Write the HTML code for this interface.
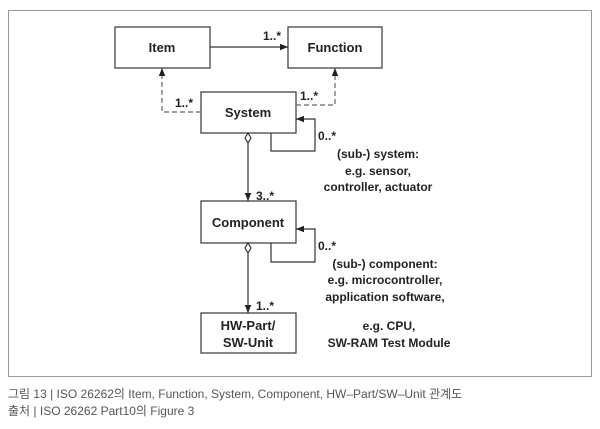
<!DOCTYPE html>
<html><head><meta charset="utf-8"><style>
body{margin:0;background:#fff;width:600px;height:424px;overflow:hidden}
</style></head><body>
<svg width="600" height="424" viewBox="0 0 600 424" xmlns="http://www.w3.org/2000/svg" font-family="Liberation Sans, Arial, sans-serif">
<defs>
<marker id="a" viewBox="0 0 10 10" refX="10" refY="5" markerWidth="8" markerHeight="8" orient="auto" markerUnits="userSpaceOnUse"><path d="M0,1 L10,5 L0,9 z" fill="#222"/></marker>
</defs>
<rect x="8.5" y="10.5" width="583" height="366" fill="#fff" stroke="#999" stroke-width="1"/>
<g fill="#fff" stroke="#444" stroke-width="1.3">
<rect x="115" y="27" width="95" height="41"/>
<rect x="288" y="27" width="94" height="41"/>
<rect x="201" y="92" width="95" height="41"/>
<rect x="201" y="201" width="95" height="42"/>
<rect x="201" y="313" width="95" height="40"/>
</g>
<g stroke="#333" stroke-width="1.2" fill="none">
<line x1="210" y1="47" x2="288" y2="47" marker-end="url(#a)"/>
<polyline points="201,112 162,112 162,68" stroke-dasharray="5,3" stroke="#666" marker-end="url(#a)"/>
<polyline points="296,105 335,105 335,68" stroke-dasharray="5,3" stroke="#666" marker-end="url(#a)"/>
<polyline points="271,133 271,151 315,151 315,119 296,119" marker-end="url(#a)"/>
<polyline points="271,243 271,262 315,262 315,229 296,229" marker-end="url(#a)"/>
<line x1="248" y1="143" x2="248" y2="201" marker-end="url(#a)"/>
<line x1="248" y1="253" x2="248" y2="313" marker-end="url(#a)"/>
<path d="M248,133 L251,138 L248,143 L245,138 z" fill="#fff"/>
<path d="M248,243 L251,248 L248,253 L245,248 z" fill="#fff"/>
</g>
<g font-size="13" font-weight="bold" fill="#222" text-anchor="middle">
<text x="162" y="52">Item</text>
<text x="335" y="52">Function</text>
<text x="248" y="117">System</text>
<text x="248" y="227">Component</text>
<text x="248" y="330">HW-Part/</text>
<text x="248" y="347">SW-Unit</text>
</g>
<g font-size="12" font-weight="bold" fill="#222">
<text x="263" y="40">1..*</text>
<text x="175" y="107">1..*</text>
<text x="300" y="100">1..*</text>
<text x="318" y="140">0..*</text>
<text x="256" y="200">3..*</text>
<text x="318" y="250">0..*</text>
<text x="256" y="310">1..*</text>
</g>
<g font-size="12" font-weight="bold" fill="#222" text-anchor="middle">
<text x="378" y="158">(sub-) system:</text>
<text x="378" y="175">e.g. sensor,</text>
<text x="378" y="191">controller, actuator</text>
<text x="385" y="268">(sub-) component:</text>
<text x="385" y="284">e.g. microcontroller,</text>
<text x="385" y="301">application software,</text>
<text x="389" y="330">e.g. CPU,</text>
<text x="389" y="347">SW-RAM Test Module</text>
</g>
<g font-size="12" fill="#555" font-family="Liberation Sans, Noto Sans CJK KR, sans-serif">
<text x="8" y="398">그림 13 |  ISO 26262의 Item, Function, System, Component, HW–Part/SW–Unit 관계도</text>
<text x="8" y="415">출처 |  ISO 26262 Part10의 Figure 3</text>
</g>
</svg>
</body></html>
